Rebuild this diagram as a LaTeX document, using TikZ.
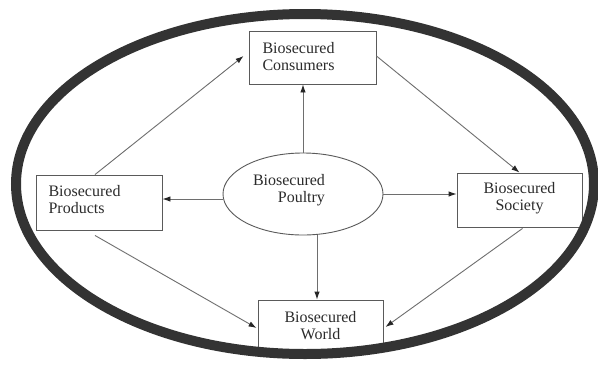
\documentclass[tikz,border=0pt]{standalone}
\usepackage{fontspec}
\setmainfont{Liberation Serif}
\usetikzlibrary{arrows.meta,shapes.geometric}
\definecolor{txt}{HTML}{2B2B2B}
\definecolor{boxline}{HTML}{5A5A5A}
\definecolor{arrline}{HTML}{6E6E6E}
\definecolor{ring}{HTML}{333333}
\begin{document}
\begin{tikzpicture}[x=1pt,y=-1pt,
  every node/.style={font=\fontsize{16}{17}\selectfont, text=txt},
  boxnode/.style={draw=boxline, line width=0.9pt, rectangle, inner sep=0pt},
  conn/.style={draw=arrline, line width=0.9pt, -{Latex[length=8pt,width=5.5pt,color=black!85]}}]
\useasboundingbox (0,0) rectangle (598,365);
\fill[white] (0,0) rectangle (598,365);
% boxes
\node[boxnode, minimum width=127pt, minimum height=53pt] (consumers) at (312.5,57.5) {};
\node[anchor=west, align=left] (consumerstext) at (259,56.5) {Biosecured\\Consumers};
\node[boxnode, minimum width=126pt, minimum height=55pt] (products) at (99,202.5) {};
\node[anchor=west, align=left] (productstext) at (45,200) {Biosecured\\Products};
\node[boxnode, minimum width=125pt, minimum height=54pt] (society) at (519.5,200) {};
\node[align=center] (societytext) at (519.5,198) {Biosecured\\Society};
\node[boxnode, minimum width=125pt, minimum height=50pt] (world) at (320.5,325) {};
\node[align=center] (worldtext) at (320.5,325.5) {Biosecured\\World};
% centre ellipse
\node[ellipse, draw=boxline, line width=0.9pt, minimum width=160pt, minimum height=82pt, inner sep=0pt] (poultry) at (303,194) {};
\node[align=right] (poultrytext) at (289,190) {Biosecured\\Poultry};
% connectors
\draw[conn] (poultry.north) -- (poultry.north |- consumers.south);
\draw[conn] ([xshift=14pt]poultry.south) -- ([xshift=14pt]poultry.south |- world.north);
\draw[conn] (poultry.east) -- (poultry.east -| society.west);
\draw[conn] ([yshift=-5pt]poultry.west) -- ([yshift=-5pt]poultry.west -| products.east);
\draw[conn] ([xshift=-4pt]products.north) -- ([xshift=-5pt,yshift=1.5pt]consumers.west);
\draw[conn] ([yshift=1.5pt]consumers.east) -- (society.north);
\draw[conn] ([xshift=-4pt,yshift=-5pt]products.south) -- ([xshift=-1pt,yshift=-3pt]world.west);
\draw[conn] ([xshift=3pt,yshift=-1pt]society.south) -- ([xshift=2pt,yshift=-2pt]world.east);
% outer ring
\draw[ring, line width=10pt] (305,184) ellipse [x radius=289pt, y radius=170pt];
\end{tikzpicture}
\end{document}
